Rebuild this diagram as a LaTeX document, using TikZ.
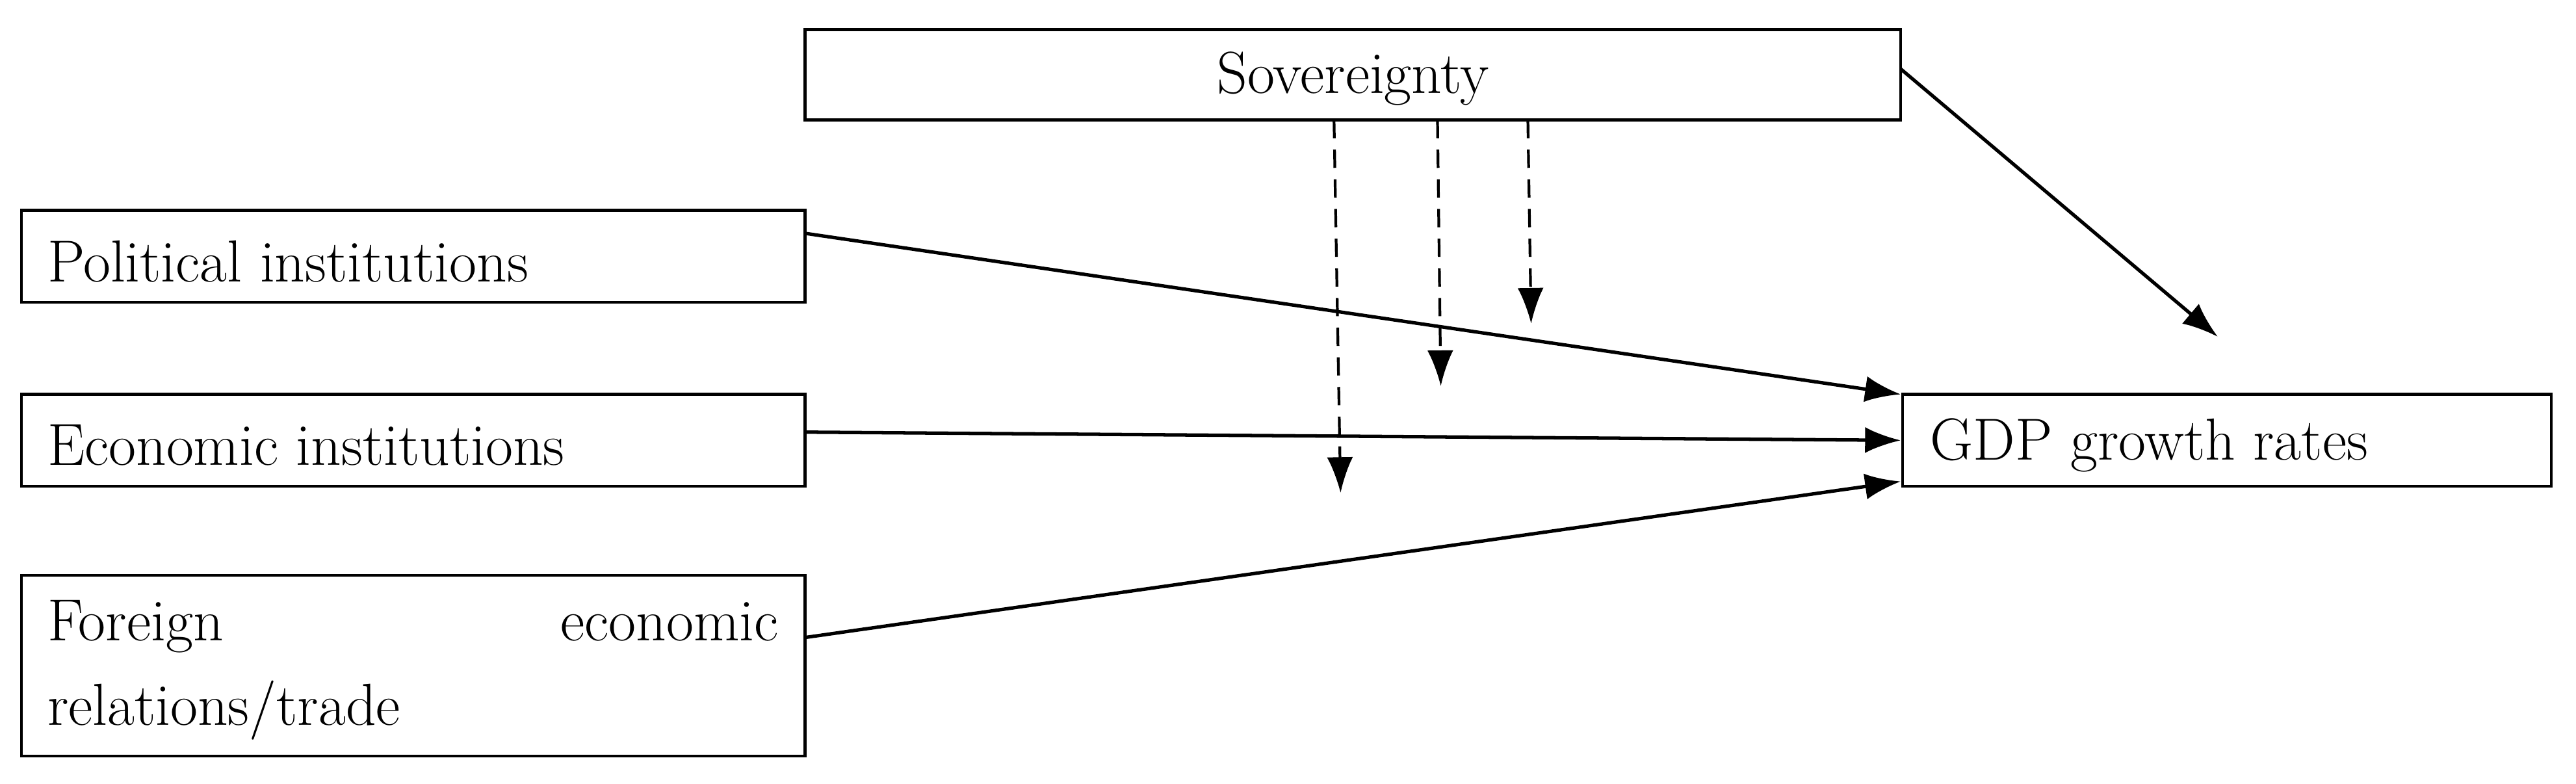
\documentclass[tikz,border=0pt]{standalone}
\usetikzlibrary{arrows.meta,calc}
\begin{document}
\begin{tikzpicture}[x=0.0253cm,y=-0.0253cm,
  box/.style={draw,line width=1.2pt,inner sep=0pt},
  arr/.style={line width=1.5pt,-{Latex[length=0.55cm,width=0.4cm]}},
  darr/.style={line width=1.2pt,dashed,dash pattern=on 8pt off 5pt,-{Latex[length=0.55cm,width=0.4cm]}},
  txt/.style={font=\fontsize{26}{37}\selectfont,anchor=west}]
\useasboundingbox (0,0) rectangle (1568,476.8);
\node[box,minimum width=667*0.0253cm,minimum height=55*0.0253cm] (sov) at (823.5,45.5) {};
\node[font=\fontsize{26}{30}\selectfont] (sovt) at (823.5,48) {Sovereignty};
\node[box,minimum width=477*0.0253cm,minimum height=56*0.0253cm] (pol) at (251.5,156) {};
\node[txt] (polt) at (24,159) {Political institutions};
\node[box,minimum width=477*0.0253cm,minimum height=56*0.0253cm] (eco) at (251.5,268) {};
\node[txt] (ecot) at (24,271) {Economic institutions};
\node[box,minimum width=477*0.0253cm,minimum height=110*0.0253cm] (for) at (251.5,405) {};
\node[txt,text width=445*0.0253cm,align=left] (fort) at (24,408) {Foreign\hfill economic\\relations/trade};
\node[box,minimum width=395*0.0253cm,minimum height=56*0.0253cm] (gdp) at (1355.5,268) {};
\node[txt] (gdpt) at (1170,271) {GDP growth rates};
\coordinate (p1) at (490,142); \coordinate (g1) at (1157,240);
\coordinate (e1) at (490,263); \coordinate (g2) at (1157,268);
\coordinate (f1) at (490,388); \coordinate (g3) at (1157,293);
\coordinate (s1) at (1157,42); \coordinate (s2) at (1350,205);
\coordinate (d1a) at (812,73); \coordinate (d1b) at (816,300);
\coordinate (d2a) at (875,73); \coordinate (d2b) at (877,235);
\coordinate (d3a) at (930,73); \coordinate (d3b) at (932,197);
\draw[arr] (p1) -- (g1);
\draw[arr] (e1) -- (g2);
\draw[arr] (f1) -- (g3);
\draw[arr] (s1) -- (s2);
\draw[darr] (d1a) -- (d1b);
\draw[darr] (d2a) -- (d2b);
\draw[darr] (d3a) -- (d3b);
\end{tikzpicture}
\end{document}
